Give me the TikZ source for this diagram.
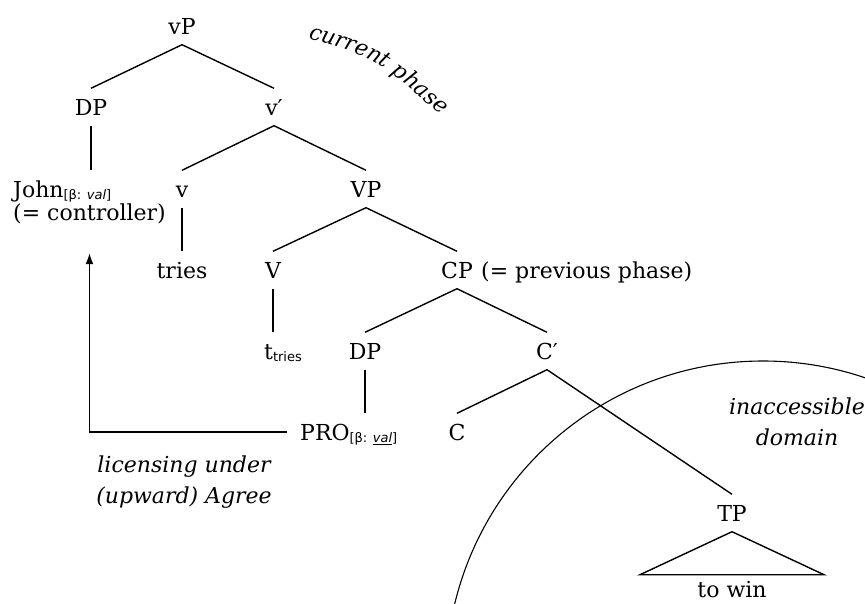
\documentclass[tikz,border=0pt]{standalone}
\usepackage{fontspec}
\setmainfont{DejaVu Serif}
\newfontfamily\subfont{DejaVu Sans}
\usetikzlibrary{positioning,decorations.text,arrows.meta}
\newcommand{\feat}[1]{\raisebox{-2.5pt}{\subfont\fontsize{13}{13}\selectfont#1}}
\newcommand{\annot}{\fontsize{22}{31}\selectfont\itshape}

\begin{document}
\begin{tikzpicture}[x=1pt,y=-1pt,
  cat/.style={anchor=base,inner xsep=1pt,inner ysep=10.5pt,text height=16pt,text depth=0pt},
  branch/.style={line width=1.4pt},
  note/.style={font=\annot,align=center},
  font=\fontsize{22}{24}\selectfont]
  \useasboundingbox (0,0) rectangle (865,603);

  % matrix clause
  \node[cat] (vP) at (182,34) {vP};
  \node[cat] (DPa) at (91,115) {DP};
  \node[cat] (vbar) at (274,115) {v′};
  \node[cat, anchor=base west] (John) at (12,197) {John\feat{[β: \textit{val}]}};
  \node[cat, anchor=base west] (ctrl) at (12,220) {(= controller)};
  \node[cat] (v) at (182,197) {v};
  \node[cat] (VP) at (366,197) {VP};
  \node[cat] (tries) at (182,278) {tries};
  \node[cat] (V) at (273,278) {V};
  \node[cat] (CP) at (457,278) {CP};
  \node[cat] (prev) [right=6pt of CP] {(= previous phase)};

  % embedded clause
  \node[cat, anchor=base west] (trace) at (263,359) {t\feat{tries}};
  \node[cat] (DPb) at (365,359) {DP};
  \node[cat] (Cbar) at (547,359) {C′};
  \node[cat, anchor=base west] (PRO) at (299,440) {PRO\feat{[β: \underline{\textit{val}}]}};
  \node[cat] (C) at (457,440) {C};
  \node[cat] (TP) at (732,521) {TP};
  \node (towin) at (732,597) [anchor=base] {to win};

  \draw[branch] (vP.south) -- (DPa.north);
  \draw[branch] (vP.south) -- (vbar.north);
  \draw[branch] (DPa.south) -- (DPa.south |- John.north);
  \draw[branch] (vbar.south) -- (v.north);
  \draw[branch] (vbar.south) -- (VP.north);
  \draw[branch] (v.south) -- (tries.north);
  \draw[branch] (VP.south) -- (V.north);
  \draw[branch] (VP.south) -- (CP.north);
  \draw[branch] (V.south) -- (V.south |- trace.north);
  \draw[branch] (CP.south) -- (DPb.north);
  \draw[branch] (CP.south) -- (Cbar.north);
  \draw[branch] (DPb.south) -- (DPb.south |- PRO.north);
  \draw[branch] (Cbar.south) -- (C.north);
  \draw[branch] (Cbar.south) -- (TP.north);
  \draw[branch] (TP.south) -- ++(-92,43) -- ++(184,0) -- cycle;

  % control relation
  \draw[branch,-{Latex[length=11pt,width=8pt]},shorten <=12pt,shorten >=22.5pt] (PRO.west) -| (ctrl.south);
  \node[note] (lic) at (184,482) {licensing under\\(upward) Agree};

  % phase boundary
  \begin{scope}
    \clip (0,0) rectangle (865,603);
    \draw[line width=1.1pt] (763,678) circle[radius=317pt];
  \end{scope}
  \node[note] (inacc) at (797,422) {inaccessible\\domain};
  \path[decorate,decoration={text along path,text={|\annot|current phase}}]
    (308,38) .. controls (376,58) .. (442,116);
\end{tikzpicture}
\end{document}
